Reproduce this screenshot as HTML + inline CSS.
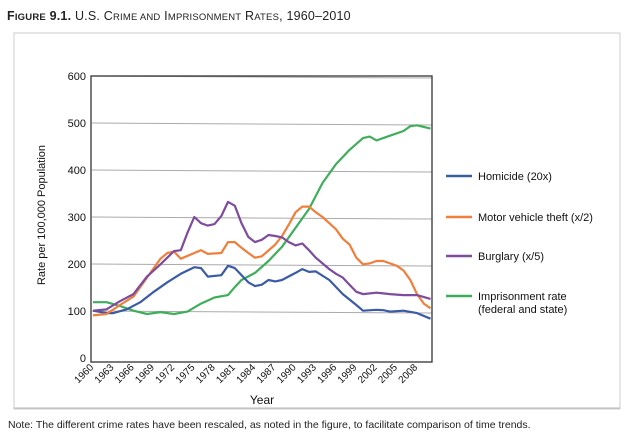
<!DOCTYPE html>
<html><head><meta charset="utf-8"><style>
body{margin:0;background:#fff;width:626px;height:441px;overflow:hidden}
svg{display:block}
</style></head><body>
<svg width="626" height="441" xmlns="http://www.w3.org/2000/svg" id="s">
<text x="7" y="20" font-family="Liberation Sans, sans-serif" font-size="12.5" fill="#222" letter-spacing="0.2"><tspan font-weight="bold">F<tspan font-size="9.5">IGURE</tspan> 9.1.</tspan> U.S. C<tspan font-size="9.5">RIME AND</tspan> I<tspan font-size="9.5">MPRISONMENT</tspan> R<tspan font-size="9.5">ATES</tspan>, 1960–2010</text>
<rect x="14" y="33" width="606" height="376" fill="none" stroke="#ccc" stroke-width="1"/>
<g stroke="#aaa" stroke-width="1">
<line x1="92" y1="76" x2="432" y2="78"/><line x1="92" y1="123" x2="432" y2="125"/>
<line x1="92" y1="170" x2="432" y2="172"/><line x1="92" y1="217" x2="432" y2="219"/>
<line x1="92" y1="264" x2="432" y2="266"/><line x1="92" y1="311" x2="432" y2="313"/>
</g>
<rect x="91" y="76" width="341" height="286" fill="none" stroke="#333" stroke-width="1.3"/>
<g font-family="Liberation Sans, sans-serif" font-size="11" fill="#111" text-anchor="end">
<text x="86" y="80">600</text><text x="86" y="127">500</text><text x="86" y="174">400</text>
<text x="86" y="221">300</text><text x="86" y="268">200</text><text x="86" y="315">100</text><text x="86" y="362">0</text>
</g>
<text transform="translate(45,215) rotate(-90)" text-anchor="middle" font-family="Liberation Sans, sans-serif" font-size="11" fill="#111">Rate per 100,000 Population</text>
<g id="xl" font-family="Liberation Sans, sans-serif" font-size="10" fill="#111"></g>
<text x="262" y="404" text-anchor="middle" font-family="Liberation Sans, sans-serif" font-size="12" fill="#111">Year</text>
<line x1="14" y1="408" x2="620" y2="408" stroke="#bbb"/>
<text x="8" y="428" font-family="Liberation Sans, sans-serif" font-size="10.5" fill="#222">Note: The different crime rates have been rescaled, as noted in the figure, to facilitate comparison of time trends.</text>
<g id="ser" fill="none" stroke-width="2.2" stroke-linejoin="round"></g>
<g font-family="Liberation Sans, sans-serif" font-size="11" fill="#111" stroke-width="2.5">
<line x1="446" y1="176" x2="472" y2="176" stroke="#3b5ba5"/><text x="478" y="180">Homicide (20x)</text>
<line x1="446" y1="217" x2="472" y2="217" stroke="#f07f3c"/><text x="478" y="221">Motor vehicle theft (x/2)</text>
<line x1="446" y1="256" x2="472" y2="256" stroke="#7e4b9e"/><text x="478" y="260">Burglary (x/5)</text>
<line x1="446" y1="296" x2="472" y2="296" stroke="#3fae5a"/><text x="478" y="300">Imprisonment rate</text><text x="478" y="313">(federal and state)</text>
</g>
</svg>
<script>
var NS="http://www.w3.org/2000/svg";
function X(y){return 93+6.75*(y-1960);}
function Y(v){return 358-v*0.473;}
var xl=document.getElementById("xl");
for(var y=1960;y<=2008;y+=3){var t=document.createElementNS(NS,"text");t.setAttribute("transform","translate("+(X(y)+1)+",368) rotate(-45)");t.setAttribute("text-anchor","end");t.textContent=y;xl.appendChild(t);}
var S=[
["#3fae5a",[[1960,118],[1962,118],[1964,110],[1966,100],[1968,93],[1970,97],[1972,93],[1974,98],[1976,115],[1978,128],[1980,133],[1981,150],[1982,165],[1984,180],[1986,205],[1988,235],[1990,275],[1992,315],[1994,370],[1996,410],[1998,440],[2000,465],[2001,468],[2002,460],[2004,470],[2006,480],[2007,490],[2008,492],[2010,485]]],
["#3b5ba5",[[1960,100],[1962,95],[1963,95],[1965,103],[1967,118],[1969,140],[1971,160],[1973,178],[1975,192],[1976,190],[1977,172],[1979,175],[1980,195],[1981,190],[1983,160],[1984,152],[1985,155],[1986,165],[1987,162],[1988,165],[1990,180],[1991,188],[1992,182],[1993,183],[1995,165],[1997,135],[1999,112],[2000,100],[2002,102],[2003,101],[2004,98],[2006,100],[2008,95],[2010,83]]],
["#f07f3c",[[1960,90],[1962,93],[1964,112],[1966,130],[1968,170],[1970,210],[1971,222],[1972,225],[1973,210],[1975,222],[1976,228],[1977,220],[1979,222],[1980,245],[1981,245],[1982,233],[1983,222],[1984,212],[1985,215],[1987,240],[1988,258],[1989,282],[1990,308],[1991,320],[1992,320],[1993,308],[1994,298],[1995,285],[1996,272],[1997,252],[1998,240],[1999,212],[2000,198],[2001,200],[2002,205],[2003,205],[2004,200],[2005,195],[2006,185],[2007,165],[2008,135],[2009,115],[2010,105]]],
["#7e4b9e",[[1960,100],[1962,103],[1964,120],[1966,135],[1968,172],[1970,198],[1972,226],[1973,228],[1974,265],[1975,298],[1976,285],[1977,280],[1978,283],[1979,300],[1980,330],[1981,322],[1982,285],[1983,256],[1984,245],[1985,250],[1986,260],[1987,258],[1988,255],[1989,245],[1990,238],[1991,242],[1992,228],[1993,212],[1994,200],[1995,188],[1996,178],[1997,170],[1998,155],[1999,140],[2000,135],[2002,138],[2004,135],[2006,133],[2008,133],[2010,125]]]
];
var g=document.getElementById("ser");
S.forEach(function(s){var p=document.createElementNS(NS,"polyline");p.setAttribute("stroke",s[0]);p.setAttribute("points",s[1].map(function(d){return X(d[0]).toFixed(1)+","+Y(d[1]).toFixed(1)}).join(" "));g.appendChild(p);});
</script>
</body></html>
